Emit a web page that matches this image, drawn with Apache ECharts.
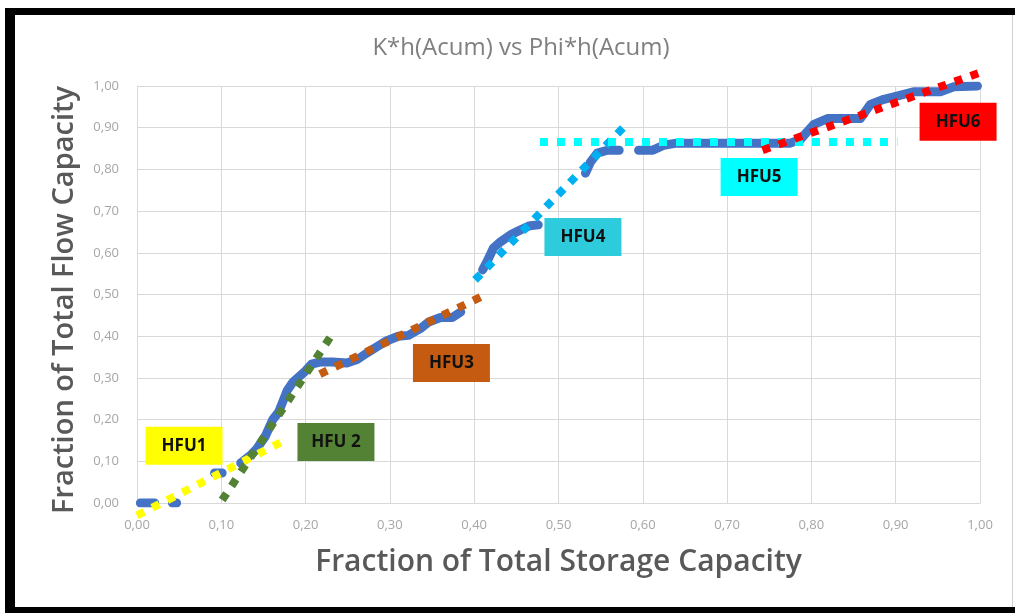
<!DOCTYPE html>
<html>
<head>
<meta charset="utf-8">
<script src="https://cdn.jsdelivr.net/npm/echarts@6/dist/echarts.min.js"></script>
<style>
  html, body { margin: 0; padding: 0; background: #ffffff; }
  #wrap { position: relative; width: 1015px; height: 613px; overflow: hidden; }
  #chart { position: absolute; left: 0; top: 0; width: 1015px; height: 613px; }
  .edge { position: absolute; background: #000; pointer-events: none; }
</style>
</head>
<body>
<div id="wrap">
  <div id="chart"></div>
  <div class="edge" style="left:5px; top:8px; width:1010px; height:7px;"></div>
  <div class="edge" style="left:5px; top:8px; width:10px; height:605px;"></div>
  <div class="edge" style="left:5px; top:607px; width:1010px; height:6px;"></div>
  <div class="edge" style="left:1012px; top:15px; width:1px; height:592px; background:#d0d0d0;"></div>
</div>
<script>
// Cumulative flow capacity vs cumulative storage capacity ('-' marks a break)
const measured = [
  [0.004, 0.0], [0.021, 0.0], '-',
  [0.042, 0.0], [0.047, 0.0], '-',
  [0.092, 0.072], [0.101, 0.072], '-',
  [0.123, 0.096], [0.135, 0.115], [0.142, 0.13], [0.152, 0.159], [0.161, 0.2],
  [0.168, 0.218], [0.178, 0.269], [0.185, 0.29], [0.2, 0.317], [0.207, 0.333],
  [0.217, 0.338], [0.232, 0.338], [0.249, 0.336], [0.262, 0.345], [0.273, 0.36],
  [0.295, 0.388], [0.31, 0.4], [0.322, 0.402], [0.336, 0.418], [0.346, 0.434],
  [0.36, 0.445], [0.374, 0.445], [0.384, 0.458], '-',
  [0.41, 0.559], [0.415, 0.578], [0.423, 0.612], [0.431, 0.626], [0.443, 0.643],
  [0.455, 0.655], [0.466, 0.665], [0.476, 0.667], '-',
  [0.532, 0.791], [0.538, 0.818], [0.546, 0.839], [0.558, 0.846], [0.572, 0.846], '-',
  [0.595, 0.846], [0.612, 0.846], [0.625, 0.858], [0.64, 0.863], [0.70, 0.863],
  [0.712, 0.863], [0.775, 0.863], [0.787, 0.872], [0.803, 0.908], [0.819, 0.922],
  [0.858, 0.922], [0.87, 0.956], [0.886, 0.968], [0.906, 0.978], [0.921, 0.986],
  [0.953, 0.986], [0.969, 0.998], [0.997, 1.0]
];

// Hydraulic flow unit trend lines (end points)
const hfu1Trend = [[0.0, -0.03], [0.176, 0.151]];
const hfu2Trend = [[0.101, 0.007], [0.231, 0.403]];
const hfu3Trend = [[0.217, 0.309], [0.413, 0.499]];
const hfu4Trend = [[0.401, 0.535], [0.582, 0.911]];
const hfu5Trend = [[0.478, 0.866], [0.902, 0.866]];
const hfu6Trend = [[0.742, 0.846], [1.015, 1.043]];

// Unit names and where their tags sit
const unitNames = ['HFU1', 'HFU 2', 'HFU3', 'HFU4', 'HFU5', 'HFU6'];
const unitTagPos = [[0.0558, 0.137], [0.236, 0.146], [0.373, 0.336], [0.529, 0.638], [0.738, 0.782], [0.974, 0.914]];
const unitColors = ['#FFFF00', '#548235', '#C55A11', '#00B0F0', '#00FFFF', '#FF0000'];
const unitTagColors = ['#FFFF00', '#548235', '#C55A11', '#2ECBDC', '#00FFFF', '#FF0000'];

const chart = echarts.init(document.getElementById('chart'), null, { renderer: 'canvas' });

const fmt = v => v.toFixed(2).replace('.', ',');

const trendSets = [hfu1Trend, hfu2Trend, hfu3Trend, hfu4Trend, hfu5Trend, hfu6Trend];
const trendSeries = trendSets.map((d, i) => ({
  type: 'line',
  data: d,
  clip: false,
  showSymbol: false,
  silent: true,
  z: 3,
  lineStyle: { color: unitColors[i], width: 8, type: [8, 9], cap: 'butt' }
}));

const tagSeries = unitNames.map((name, i) => ({
  type: 'scatter',
  data: [unitTagPos[i]],
  symbolSize: 1,
  itemStyle: { color: 'rgba(0,0,0,0)', opacity: 1 },
  z: 5,
  label: {
    show: true,
    position: 'inside',
    formatter: name,
    width: 77,
    height: 38,
    lineHeight: 38,
    align: 'center',
    verticalAlign: 'middle',
    backgroundColor: unitTagColors[i],
    color: '#111111',
    fontFamily: 'Open Sans',
    fontWeight: 'bold',
    fontSize: 17
  }
}));

chart.setOption({
  animation: false,
  title: {
    text: 'K*h(Acum) vs Phi*h(Acum)',
    left: 516,
    top: 31,
    textAlign: 'center',
    textStyle: { color: '#7F7F7F', fontFamily: 'Open Sans', fontWeight: 'normal', fontSize: 24 }
  },
  grid: { left: 137, right: 35, top: 86, bottom: 110, containLabel: false },
  xAxis: {
    type: 'value', min: 0, max: 1, interval: 0.1,
    name: 'Fraction of Total Storage Capacity',
    nameLocation: 'middle', nameGap: 44,
    nameTextStyle: { color: '#595959', fontFamily: 'Open Sans', fontWeight: 600, fontSize: 30 },
    axisLine: { show: true, lineStyle: { color: '#D9D9D9', width: 1 } },
    axisTick: { show: false },
    axisLabel: { formatter: fmt, color: '#A6A6A6', fontFamily: 'Open Sans', fontSize: 13, margin: 16 },
    splitLine: { show: true, lineStyle: { color: '#D9D9D9', width: 1 } }
  },
  yAxis: {
    type: 'value', min: 0, max: 1, interval: 0.1,
    name: 'Fraction of Total Flow Capacity',
    nameLocation: 'middle', nameGap: 58,
    nameTextStyle: { color: '#595959', fontFamily: 'Open Sans', fontWeight: 600, fontSize: 29, padding: [0, 11, 0, 0] },
    axisLine: { show: true, lineStyle: { color: '#D9D9D9', width: 1 } },
    axisTick: { show: false },
    axisLabel: { formatter: fmt, color: '#A6A6A6', fontFamily: 'Open Sans', fontSize: 13, margin: 18 },
    splitLine: { show: true, lineStyle: { color: '#D9D9D9', width: 1 } }
  },
  series: [
    {
      type: 'line',
      data: measured,
      connectNulls: false,
      showSymbol: false,
      silent: true,
      z: 2,
      lineStyle: { color: '#4472C4', width: 9, cap: 'round', join: 'round' }
    }
  ].concat(trendSeries, tagSeries)
});
</script>
</body>
</html>
